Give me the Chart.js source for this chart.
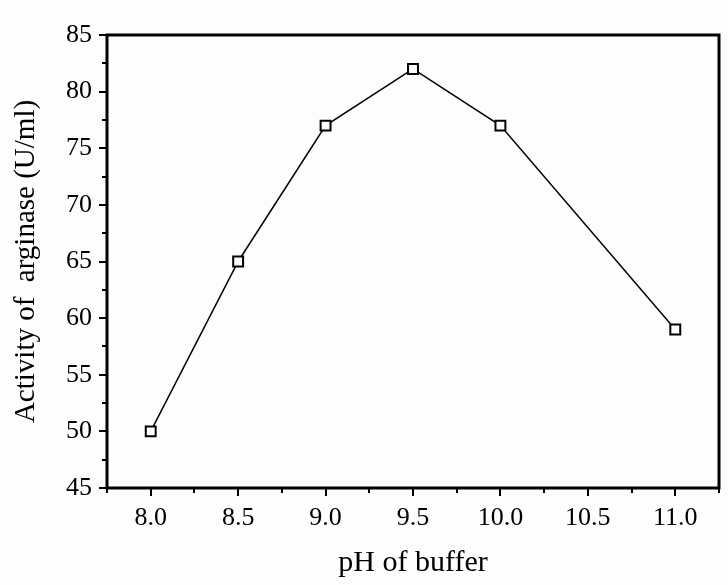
<!DOCTYPE html>
<html>
<head>
<meta charset="utf-8">
<script src="https://cdn.jsdelivr.net/npm/chart.js@4/dist/chart.umd.min.js"></script>
<style>
    body { margin: 0; background: #fdfdfd; }
    canvas { display: block; }
</style>
</head>
<body>
<canvas id="myChart" width="728" height="585"></canvas>
<script>
const phValues = [8.0, 8.5, 9.0, 9.5, 10.0, 11.0];
const activityValues = [50, 65, 77, 82, 77, 59];
const xTickValues = [8.0, 8.5, 9.0, 9.5, 10.0, 10.5, 11.0];
const yTickValues = [45, 50, 55, 60, 65, 70, 75, 80, 85];

document.addEventListener("DOMContentLoaded", () => {
    const ctx = document.getElementById('myChart').getContext("2d");

    // frame on all four sides + outward major/minor ticks
    const framePlugin = {
        id: 'frame',
        afterDraw(chart) {
            const c = chart.ctx;
            const area = chart.chartArea;
            const xs = chart.scales.x;
            const ys = chart.scales.y;
            c.save();
            c.strokeStyle = "black";
            c.lineWidth = 3;
            c.strokeRect(area.left, area.top, area.right - area.left, area.bottom - area.top);

            c.lineWidth = 2;
            c.beginPath();
            for (let v = xs.min; v <= xs.max + 1e-9; v += 0.25) {
                const px = Math.round(xs.getPixelForValue(v));
                const major = Math.abs(v * 2 - Math.round(v * 2)) < 1e-6;
                c.moveTo(px, area.bottom);
                c.lineTo(px, area.bottom + (major ? 8 : 5));
            }
            for (let v = ys.min; v <= ys.max + 1e-9; v += 2.5) {
                const py = Math.round(ys.getPixelForValue(v));
                const major = v % 5 === 0;
                c.moveTo(area.left, py);
                c.lineTo(area.left - (major ? 8 : 5), py);
            }
            c.stroke();
            c.restore();
        }
    };

    const chart = new Chart(ctx, {
        type: 'scatter',
        data: {
            datasets: [{
                label: 'Activity',
                data: phValues.map((x, i) => ({ x: x, y: activityValues[i] })),
                showLine: true,
                borderColor: "black",
                borderWidth: 1.5,
                pointStyle: 'rect',
                pointRadius: 7,
                pointBorderWidth: 2,
                pointBackgroundColor: "white",
                pointBorderColor: "black"
            }]
        },
        options: {
            responsive: false,
            animation: false,
            layout: {
                padding: { top: 35, right: 6, left: 0, bottom: 0 }
            },
            scales: {
                x: {
                    type: 'linear',
                    min: 7.75,
                    max: 11.25,
                    afterBuildTicks: (scale) => {
                        scale.ticks = xTickValues.map(v => ({ value: v }));
                    },
                    afterFit: (scale) => { scale.height = 97; },
                    grid: { display: false, drawTicks: false },
                    border: { display: false },
                    ticks: {
                        color: "black",
                        padding: 15,
                        maxRotation: 0,
                        font: { family: "Liberation Serif", size: 26 },
                        callback: (v) => Number(v).toFixed(1)
                    },
                    title: {
                        display: true,
                        text: "pH of buffer",
                        color: "black",
                        padding: { top: 0, bottom: 4 },
                        font: { family: "Liberation Serif", size: 30 }
                    }
                },
                y: {
                    min: 45,
                    max: 85,
                    afterBuildTicks: (scale) => {
                        scale.ticks = yTickValues.map(v => ({ value: v }));
                    },
                    afterFit: (scale) => { scale.width = 107; },
                    grid: { display: false, drawTicks: false },
                    border: { display: false },
                    ticks: {
                        color: "black",
                        padding: 15,
                        font: { family: "Liberation Serif", size: 26 }
                    },
                    title: {
                        display: true,
                        text: "Activity of  arginase (U/ml)",
                        color: "black",
                        padding: { top: 9, bottom: 0 },
                        font: { family: "Liberation Serif", size: 29 }
                    }
                }
            },
            plugins: {
                legend: { display: false },
                tooltip: { enabled: false }
            }
        },
        plugins: [framePlugin]
    });
});
</script>
</body>
</html>
